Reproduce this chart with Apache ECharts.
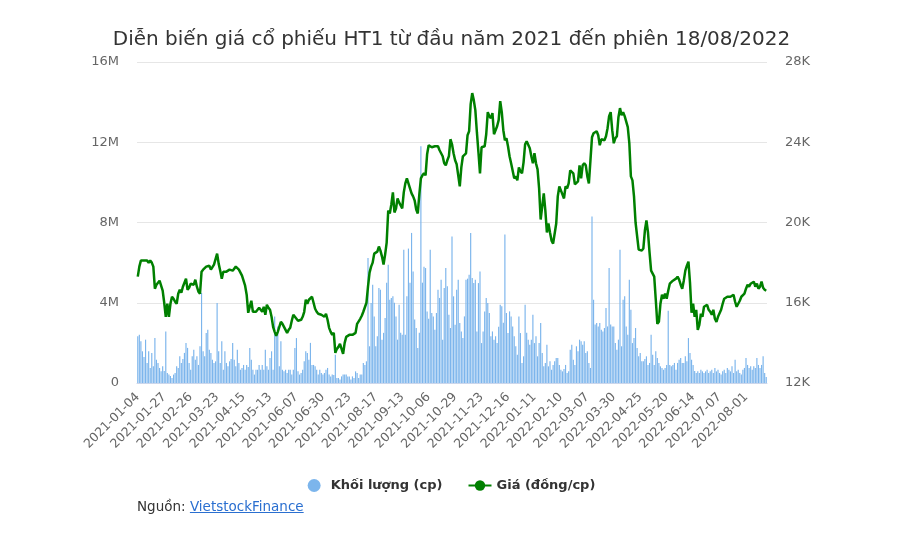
<!DOCTYPE html>
<html>
<head>
<meta charset="utf-8">
<script src="https://cdn.jsdelivr.net/npm/echarts@6/dist/echarts.min.js"></script>
<style>
html,body{margin:0;padding:0;background:#fff;}
#wrap{position:relative;width:903px;height:547px;}
#chart{position:absolute;left:0;top:0;width:903px;height:547px;}
#src{position:absolute;left:137px;top:498px;font-family:"DejaVu Sans",Arial,sans-serif;font-size:13.5px;line-height:17px;color:#333;}
#src a{color:#2a6fd0;text-decoration:underline;}
</style>
</head>
<body>
<div id="wrap">
<div id="chart"></div>
<div id="src">Nguồn: <a href="#">VietstockFinance</a></div>
</div>
<script>
const titleText = "Diễn biến giá cổ phiếu HT1 từ đầu năm 2021 đến phiên 18/08/2022";
const seriesNames = ["Khối lượng (cp)", "Giá (đồng/cp)"];

const dates = [
"2021-01-04","2021-01-05","2021-01-06","2021-01-07","2021-01-08","2021-01-11","2021-01-12","2021-01-13","2021-01-14","2021-01-15","2021-01-18","2021-01-19","2021-01-20","2021-01-21","2021-01-22","2021-01-25","2021-01-26","2021-01-27","2021-01-28","2021-01-29",
"2021-02-01","2021-02-02","2021-02-03","2021-02-04","2021-02-05","2021-02-08","2021-02-09","2021-02-17","2021-02-18","2021-02-19","2021-02-22","2021-02-23","2021-02-24","2021-02-25","2021-02-26",
"2021-03-01","2021-03-02","2021-03-03","2021-03-04","2021-03-05","2021-03-08","2021-03-09","2021-03-10","2021-03-11","2021-03-12","2021-03-15","2021-03-16","2021-03-17","2021-03-18","2021-03-19","2021-03-22","2021-03-23","2021-03-24","2021-03-25","2021-03-26","2021-03-29","2021-03-30","2021-03-31",
"2021-04-01","2021-04-02","2021-04-05","2021-04-06","2021-04-07","2021-04-08","2021-04-09","2021-04-12","2021-04-13","2021-04-14","2021-04-15","2021-04-16","2021-04-19","2021-04-20","2021-04-22","2021-04-23","2021-04-26","2021-04-27","2021-04-28","2021-04-29",
"2021-05-04","2021-05-05","2021-05-06","2021-05-07","2021-05-10","2021-05-11","2021-05-12","2021-05-13","2021-05-14","2021-05-17","2021-05-18","2021-05-19","2021-05-20","2021-05-21","2021-05-24","2021-05-25","2021-05-26","2021-05-27","2021-05-28","2021-05-31",
"2021-06-01","2021-06-02","2021-06-03","2021-06-04","2021-06-07","2021-06-08","2021-06-09","2021-06-10","2021-06-11","2021-06-14","2021-06-15","2021-06-16","2021-06-17","2021-06-18","2021-06-21","2021-06-22","2021-06-23","2021-06-24","2021-06-25","2021-06-28","2021-06-29","2021-06-30",
"2021-07-01","2021-07-02","2021-07-05","2021-07-06","2021-07-07","2021-07-08","2021-07-09","2021-07-12","2021-07-13","2021-07-14","2021-07-15","2021-07-16","2021-07-19","2021-07-20","2021-07-21","2021-07-22","2021-07-23","2021-07-26","2021-07-27","2021-07-28","2021-07-29","2021-07-30",
"2021-08-02","2021-08-03","2021-08-04","2021-08-05","2021-08-06","2021-08-09","2021-08-10","2021-08-11","2021-08-12","2021-08-13","2021-08-16","2021-08-17","2021-08-18","2021-08-19","2021-08-20","2021-08-23","2021-08-24","2021-08-25","2021-08-26","2021-08-27","2021-08-30","2021-08-31",
"2021-09-01","2021-09-06","2021-09-07","2021-09-08","2021-09-09","2021-09-10","2021-09-13","2021-09-14","2021-09-15","2021-09-16","2021-09-17","2021-09-20","2021-09-21","2021-09-22","2021-09-23","2021-09-24","2021-09-27","2021-09-28","2021-09-29","2021-09-30",
"2021-10-01","2021-10-04","2021-10-05","2021-10-06","2021-10-07","2021-10-08","2021-10-11","2021-10-12","2021-10-13","2021-10-14","2021-10-15","2021-10-18","2021-10-19","2021-10-20","2021-10-21","2021-10-22","2021-10-25","2021-10-26","2021-10-27","2021-10-28","2021-10-29",
"2021-11-01","2021-11-02","2021-11-03","2021-11-04","2021-11-05","2021-11-08","2021-11-09","2021-11-10","2021-11-11","2021-11-12","2021-11-15","2021-11-16","2021-11-17","2021-11-18","2021-11-19","2021-11-22","2021-11-23","2021-11-24","2021-11-25","2021-11-26","2021-11-29","2021-11-30",
"2021-12-01","2021-12-02","2021-12-03","2021-12-06","2021-12-07","2021-12-08","2021-12-09","2021-12-10","2021-12-13","2021-12-14","2021-12-15","2021-12-16","2021-12-17","2021-12-20","2021-12-21","2021-12-22","2021-12-23","2021-12-24","2021-12-27","2021-12-28","2021-12-29","2021-12-30","2021-12-31",
"2022-01-04","2022-01-05","2022-01-06","2022-01-07","2022-01-10","2022-01-11","2022-01-12","2022-01-13","2022-01-14","2022-01-17","2022-01-18","2022-01-19","2022-01-20","2022-01-21","2022-01-24","2022-01-25","2022-01-26","2022-01-27","2022-01-28",
"2022-02-07","2022-02-08","2022-02-09","2022-02-10","2022-02-11","2022-02-14","2022-02-15","2022-02-16","2022-02-17","2022-02-18","2022-02-21","2022-02-22","2022-02-23","2022-02-24","2022-02-25","2022-02-28",
"2022-03-01","2022-03-02","2022-03-03","2022-03-04","2022-03-07","2022-03-08","2022-03-09","2022-03-10","2022-03-11","2022-03-14","2022-03-15","2022-03-16","2022-03-17","2022-03-18","2022-03-21","2022-03-22","2022-03-23","2022-03-24","2022-03-25","2022-03-28","2022-03-29","2022-03-30","2022-03-31",
"2022-04-01","2022-04-04","2022-04-05","2022-04-06","2022-04-07","2022-04-08","2022-04-12","2022-04-13","2022-04-14","2022-04-15","2022-04-18","2022-04-19","2022-04-20","2022-04-21","2022-04-22","2022-04-25","2022-04-26","2022-04-27","2022-04-28","2022-04-29",
"2022-05-04","2022-05-05","2022-05-06","2022-05-09","2022-05-10","2022-05-11","2022-05-12","2022-05-13","2022-05-16","2022-05-17","2022-05-18","2022-05-19","2022-05-20","2022-05-23","2022-05-24","2022-05-25","2022-05-26","2022-05-27","2022-05-30","2022-05-31",
"2022-06-01","2022-06-02","2022-06-03","2022-06-06","2022-06-07","2022-06-08","2022-06-09","2022-06-10","2022-06-13","2022-06-14","2022-06-15","2022-06-16","2022-06-17","2022-06-20","2022-06-21","2022-06-22","2022-06-23","2022-06-24","2022-06-27","2022-06-28","2022-06-29","2022-06-30",
"2022-07-01","2022-07-04","2022-07-05","2022-07-06","2022-07-07","2022-07-08","2022-07-11","2022-07-12","2022-07-13","2022-07-14","2022-07-15","2022-07-18","2022-07-19","2022-07-20","2022-07-21","2022-07-22","2022-07-25","2022-07-26","2022-07-27","2022-07-28","2022-07-29",
"2022-08-01","2022-08-02","2022-08-03","2022-08-04","2022-08-05","2022-08-08","2022-08-09","2022-08-10","2022-08-11","2022-08-12","2022-08-15","2022-08-16","2022-08-17","2022-08-18"
];

// Volume, millions of shares
const volumeM = [
2.33,2.41,2.08,1.58,1.3,2.16,1.0,1.58,0.75,1.5,0.83,2.24,1.16,1.0,0.75,0.58,0.83,0.6,2.57,0.5,
0.42,0.35,0.25,0.42,0.5,0.83,0.75,1.33,1.0,1.2,1.5,2.0,1.75,1.0,0.66,1.33,1.66,1.16,1.33,0.9,
1.83,4.49,1.58,1.33,2.49,2.66,1.66,1.5,1.16,1.0,1.08,3.99,1.58,1.0,2.08,0.66,1.58,1.0,0.83,1.08,
1.2,2.0,1.16,0.83,1.66,1.0,0.66,0.75,0.9,0.66,0.9,0.8,1.75,1.16,0.66,0.42,0.66,0.66,0.9,0.66,
0.9,0.66,1.66,0.83,0.66,1.25,1.58,0.66,3.32,2.4,2.82,0.83,2.08,0.66,0.58,0.66,0.5,0.66,0.66,0.42,
0.66,1.75,2.24,0.58,0.42,0.5,0.66,1.08,1.58,1.5,1.16,2.0,0.9,0.9,0.83,0.66,0.42,0.66,0.5,0.42,
0.5,0.66,0.75,0.42,0.33,0.42,0.4,1.41,0.25,0.25,0.17,0.33,0.42,0.42,0.42,0.33,0.33,0.17,0.33,0.25,
0.58,0.5,0.25,0.42,0.42,1.0,0.9,1.08,6.23,1.83,3.99,4.9,3.32,1.83,2.33,4.73,4.65,2.16,2.5,3.24,
5.0,5.9,4.15,4.24,4.32,4.0,3.32,2.16,3.9,2.5,2.4,6.64,2.4,4.32,6.7,5.0,7.48,5.56,3.16,2.74,
1.75,2.5,11.8,5.0,5.8,5.73,3.57,3.2,6.64,3.49,3.32,2.66,3.49,4.65,4.24,5.15,2.16,4.73,5.73,4.82,
3.4,2.74,7.3,4.32,2.9,4.65,5.15,2.99,2.57,2.24,3.32,5.15,5.2,5.4,7.48,5.23,4.98,5.15,2.57,4.98,
5.56,1.99,2.57,3.57,4.24,3.99,3.49,2.33,2.57,2.16,2.33,1.99,2.8,3.9,3.82,3.0,7.4,3.49,2.49,3.57,
3.32,2.82,2.33,1.83,1.41,3.32,2.49,1.0,1.33,3.9,2.5,2.16,1.91,2.16,3.4,1.99,2.33,1.33,1.99,2.99,
1.5,0.83,1.0,1.91,0.83,1.08,0.66,0.9,1.08,1.25,1.25,0.9,0.66,0.58,0.7,0.9,0.5,0.58,1.66,1.91,
1.16,0.9,1.83,1.58,2.16,2.08,1.91,2.08,1.5,1.58,1.0,0.75,8.3,4.15,2.91,2.99,2.82,2.99,2.66,2.57,
2.74,3.74,2.82,5.73,2.91,2.82,2.82,1.99,1.66,2.16,6.64,1.83,4.15,4.32,2.82,2.41,5.15,3.65,1.99,2.24,
2.74,1.75,1.33,1.5,1.08,1.08,1.2,1.33,0.9,1.0,2.41,1.41,0.9,1.58,1.25,1.0,0.83,0.75,0.66,0.75,
0.9,3.6,0.9,0.83,0.9,1.0,0.66,1.0,1.16,1.25,1.0,1.0,1.33,1.08,2.24,1.5,1.16,0.9,0.6,0.5,
0.58,0.5,0.66,0.58,0.5,0.58,0.66,0.5,0.58,0.66,0.5,0.75,0.58,0.66,0.5,0.42,0.58,0.66,0.5,0.75,
0.66,0.58,0.83,0.5,1.16,0.58,0.66,0.5,0.42,0.66,0.75,1.25,0.9,0.75,0.83,0.66,0.83,0.75,1.25,0.9,
0.75,0.9,1.33,0.5,0.3
];

// Price, thousand đồng per share
const priceK = [
17.3,17.8,18.1,18.15,18.1,18.05,18.1,18.0,18.1,18.0,17.8,16.7,16.9,17.0,17.1,17.15,16.6,16.0,15.3,15.95,
15.3,15.95,16.3,16.2,16.05,15.95,16.45,16.65,16.5,16.8,17.0,17.2,16.65,16.75,16.95,17.0,16.9,17.15,16.8,16.55,
16.45,17.55,17.65,17.6,17.8,17.75,17.85,17.65,17.7,17.9,17.95,18.45,17.95,17.6,17.2,17.55,17.6,17.55,17.6,17.65,
17.7,17.6,17.65,17.8,17.75,17.65,17.5,17.35,17.3,16.85,16.4,15.5,15.8,16.1,15.55,15.6,15.55,15.6,15.75,15.7,
15.55,15.8,15.4,15.9,15.75,15.65,15.3,14.8,14.55,14.35,14.55,14.8,15.05,14.95,14.8,14.65,14.5,14.65,14.75,15.1,
15.4,15.3,15.2,15.1,15.05,15.15,15.3,15.55,16.15,15.95,16.15,16.2,16.3,16.0,15.7,15.55,15.45,15.45,15.4,15.4,
15.3,15.45,15.15,14.75,14.55,14.4,14.5,13.5,13.7,13.8,13.95,13.7,13.45,14.0,14.3,14.35,14.4,14.4,14.4,14.45,
14.5,14.95,14.9,15.2,15.35,15.55,15.6,16.0,16.8,17.5,17.8,18.0,18.45,18.5,18.55,18.8,18.6,18.3,17.9,18.4,
19.0,20.6,20.45,20.9,21.5,20.5,20.7,21.2,21.0,20.95,20.7,21.5,21.95,22.2,21.95,21.7,21.45,21.3,21.1,20.65,
20.45,21.4,22.2,22.35,22.45,22.35,23.4,23.85,23.8,23.75,23.8,23.8,23.85,23.8,23.6,23.45,23.3,22.95,22.85,23.1,
23.3,24.15,23.9,23.45,23.1,22.9,22.85,21.8,22.75,23.3,23.35,23.45,24.35,24.55,25.9,26.45,26.1,25.6,24.5,23.5,
22.45,23.75,23.8,23.8,24.4,25.5,25.3,25.2,25.45,24.4,24.35,24.8,25.1,26.05,25.5,24.6,24.1,24.2,23.8,23.3,
22.95,22.95,22.2,22.3,22.1,22.75,22.55,22.45,23.0,23.9,24.05,24.0,23.7,23.3,22.95,23.45,22.95,22.65,21.7,20.15,
20.8,21.45,20.6,19.5,19.95,19.5,19.1,18.95,18.9,19.95,21.3,21.8,21.6,21.55,21.2,21.8,21.7,21.95,22.6,22.55,
22.45,21.9,21.9,22.05,22.85,22.2,22.85,22.95,22.85,22.3,21.95,23.1,24.25,24.45,24.5,24.55,24.35,23.85,24.15,24.2,
24.1,24.3,24.7,25.3,25.5,24.6,23.95,24.2,24.3,25.25,25.7,25.35,25.5,25.3,25.25,24.75,23.95,22.3,22.1,21.3,
20.0,20.05,18.65,18.6,18.6,18.7,19.6,20.1,19.5,18.5,17.6,17.55,17.3,16.15,14.95,15.05,15.95,16.4,16.2,16.45,
16.2,16.6,16.95,17.0,17.1,17.15,17.2,17.3,17.15,16.9,16.7,17.1,17.6,17.85,18.05,17.0,15.5,15.95,15.3,15.65,
14.65,14.9,15.45,15.3,15.8,15.85,15.9,15.65,15.55,15.4,15.65,15.2,15.05,15.3,15.3,15.65,15.95,16.2,16.15,16.3,
16.25,16.3,16.3,16.4,16.05,15.8,15.8,16.1,16.3,16.3,16.45,16.7,16.9,16.8,16.95,16.9,17.05,16.8,16.95,16.7,
16.8,17.05,16.75,16.65,16.6
];

const volumeTicks = [0, 4, 8, 12, 16];   // M
const priceTicks = [12, 16, 20, 24, 28];  // K

const FONT = '"DejaVu Sans", "Liberation Sans", Arial, sans-serif';
const chart = echarts.init(document.getElementById('chart'), null, {renderer: 'canvas'});
chart.setOption({
  animation: false,
  backgroundColor: '#ffffff',
  title: {
    text: titleText,
    left: 'center',
    top: 25,
    textStyle: {fontFamily: FONT, fontSize: 20, fontWeight: 'normal', color: '#333333'}
  },
  legend: {
    data: [{name: seriesNames[0], icon: 'circle'}, {name: seriesNames[1]}],
    left: 'center',
    top: 474,
    itemGap: 25,
    itemWidth: 23,
    itemHeight: 13,
    textStyle: {fontFamily: FONT, fontSize: 13, fontWeight: 'bold', color: '#333333'}
  },
  grid: {left: 137, right: 136, top: 62, bottom: 164, containLabel: false},
  xAxis: {
    type: 'category',
    data: dates,
    boundaryGap: true,
    axisLine: {lineStyle: {color: '#ccd6eb'}},
    axisTick: {alignWithLabel: true, interval: 16, length: 10, lineStyle: {color: '#ccd6eb'}},
    axisLabel: {interval: 16, rotate: 45, fontFamily: FONT, fontSize: 12.5, color: '#666666', margin: 12}
  },
  yAxis: [{
    type: 'value',
    min: volumeTicks[0], max: volumeTicks[volumeTicks.length - 1], interval: volumeTicks[1] - volumeTicks[0],
    axisLine: {show: false}, axisTick: {show: false},
    splitLine: {lineStyle: {color: '#e6e6e6'}},
    axisLabel: {fontFamily: FONT, fontSize: 13, color: '#666666', margin: 18,
      formatter: v => v === 0 ? '0' : v + 'M'}
  }, {
    type: 'value',
    min: priceTicks[0], max: priceTicks[priceTicks.length - 1], interval: priceTicks[1] - priceTicks[0],
    axisLine: {show: false}, axisTick: {show: false},
    splitLine: {show: false},
    axisLabel: {fontFamily: FONT, fontSize: 13, color: '#666666', margin: 18,
      formatter: v => v + 'K'}
  }],
  series: [{
    name: seriesNames[0],
    type: 'bar',
    yAxisIndex: 0,
    data: volumeM,
    barCategoryGap: '25%',
    itemStyle: {color: '#7cb5ec'},
    z: 2
  }, {
    name: seriesNames[1],
    type: 'line',
    yAxisIndex: 1,
    data: priceK,
    symbol: 'circle',
    symbolSize: 8,
    showSymbol: false,
    lineStyle: {color: '#008000', width: 2.5},
    itemStyle: {color: '#008000'},
    z: 3
  }]
});
</script>
</body>
</html>
